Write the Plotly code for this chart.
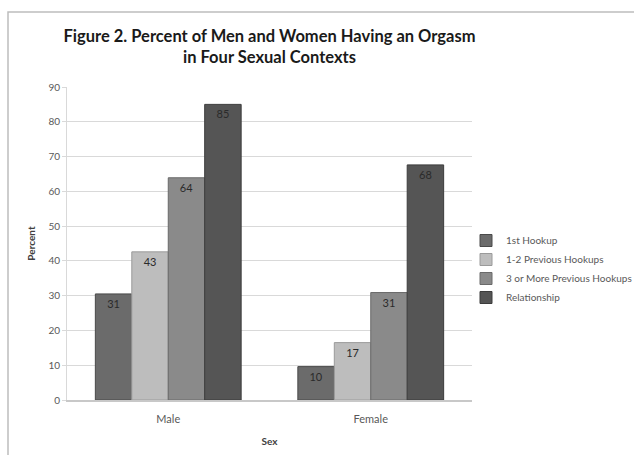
import plotly.graph_objects as go

categories = ["Male", "Female"]
series_names = ["1st Hookup", "1-2 Previous Hookups", "3 or More Previous Hookups", "Relationship"]
series_values = [
    [30.5, 9.6],
    [42.6, 16.5],
    [63.9, 30.9],
    [85.0, 67.6],
]
series_labels = [
    ["31", "10"],
    ["43", "17"],
    ["64", "31"],
    ["85", "68"],
]
colors = ["#6b6b6b", "#bdbdbd", "#8a8a8a", "#555555"]
line_colors = ["#4a4a4a", "#9a9a9a", "#6a6a6a", "#3c3c3c"]
y_ticks = [0, 10, 20, 30, 40, 50, 60, 70, 80, 90]

W, H = 634, 455
L, R, T, B = 67, 162, 87, 55

fig = go.Figure()
for name, vals, labs, c, lc in zip(series_names, series_values, series_labels, colors, line_colors):
    fig.add_trace(go.Bar(
        name=name, x=categories, y=vals, text=labs,
        textposition="inside", insidetextanchor="end",
        textfont=dict(size=11, color="#2a2a2a", family="Lato"),
        marker=dict(color=c, line=dict(color=lc, width=1)),
        constraintext="none",
    ))

pw = W - L - R
ph = H - T - B
def px_x(x):
    return (x - L) / pw
def px_y(y):
    return (H - B - y) / ph

fig.update_layout(
    width=W, height=H,
    margin=dict(l=L, r=R, t=T, b=B, autoexpand=False),
    paper_bgcolor="white", plot_bgcolor="white",
    barmode="group", bargap=0.28, bargroupgap=0,
    font=dict(family="Lato", color="#595959"),
    title=dict(
        text="<b>Figure 2. Percent of Men and Women Having an Orgasm<br>in Four Sexual Contexts</b>",
        x=0.5, xref="paper", xanchor="center", y=1 - 42 / H, yanchor="middle",
        font=dict(size=16.5, color="#1a1a1a", family="Lato"),
    ),
    xaxis=dict(
        title=dict(text="<b>Sex</b>", font=dict(size=10, color="#404040"), standoff=14),
        showgrid=False, showline=True, linecolor="#c8c8c8", linewidth=1.5,
        tickfont=dict(size=11, color="#595959"), ticks="", ticklabelstandoff=8,
    ),
    yaxis=dict(
        title=dict(text="<b>Percent</b>", font=dict(size=10, color="#404040"), standoff=10),
        range=[0, 90], tickvals=y_ticks, showgrid=True, gridcolor="#d9d9d9", gridwidth=1,
        showline=True, linecolor="#d9d9d9", zeroline=False,
        ticks="outside", ticklen=4, tickcolor="#d9d9d9",
        tickfont=dict(size=10, color="#595959"),
    ),
    legend=dict(
        x=px_x(466), y=px_y(269), xanchor="left", yanchor="middle",
        font=dict(size=10, color="#595959"), itemwidth=30,
        bgcolor="rgba(0,0,0,0)", tracegroupgap=0,
    ),
    showlegend=True,
)

fig.add_shape(
    type="path", xref="paper", yref="paper",
    path=f"M {px_x(8)} {px_y(H + 5)} L {px_x(8)} {px_y(12)} L {px_x(W + 5)} {px_y(12)}",
    line=dict(color="#bdbdbd", width=1.5),
)

fig.write_html("out.html")
